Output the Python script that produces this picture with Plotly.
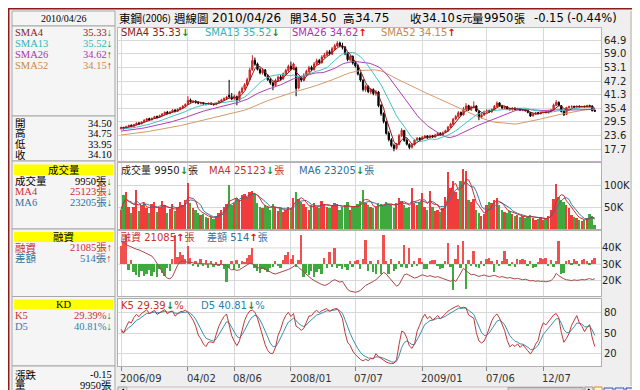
import plotly.graph_objects as go
import pandas as pd

W, H = 640, 390

# ---------------- axis / categories ----------------
holiday_weeks = ['2007-02-19', '2008-02-04', '2009-01-26']
week_dates = [d.strftime('%Y-%m-%d') for d in pd.date_range('2006-09-25', '2010-04-26', freq='7D')
              if d.strftime('%Y-%m-%d') not in holiday_weeks]
tick_dates = ['2006-09-25', '2007-04-02', '2007-08-06', '2008-01-07', '2008-07-07',
              '2009-01-05', '2009-07-06', '2009-12-07']
tick_labels = ['2006/09', '04/02', '08/06', '2008/01', '07/07', '2009/01', '07/06', '12/07']

price_ticks = [17.7, 23.6, 29.5, 35.4, 41.3, 47.2, 53.1, 59.0, 64.9]
vol_ticks = [50, 100]
margin_ticks = [20, 30, 40]
kd_ticks = [20, 50, 80]

# ---------------- weekly data ----------------
pre_close = [20.4, 20.6, 20.5, 20.8, 21.0, 20.9, 21.2, 21.4, 21.3, 21.6,
             21.8, 21.7, 22.0, 22.2, 22.1, 22.4, 22.6, 22.5, 22.8, 23.0,
             22.9, 23.2, 23.4, 23.3, 23.6, 23.8, 23.7, 24.0, 24.2, 24.1,
             24.4, 24.6, 24.5, 24.8, 25.0, 24.9, 25.2, 25.4, 25.3, 25.6,
             25.8, 25.7, 26.0, 26.2, 26.1, 26.4, 26.6, 26.5, 26.7, 26.9, 26.8]

open_p = [26.5, 27.1, 26.7, 27.3, 28.0, 27.6, 28.2, 29.0, 28.7, 29.5,
          30.1, 30.9, 30.4, 31.0, 31.8, 31.5, 32.2, 32.8, 33.7, 33.1,
          33.8, 34.6, 34.1, 34.8, 35.6, 36.3, 37.0, 38.9, 38.1, 38.5,
          38.0, 37.5, 37.8, 37.4, 37.1, 37.6, 37.3, 37.0, 37.6, 38.3,
          38.9, 39.5, 41.0, 40.3, 39.5, 40.4, 38.9, 42.4, 43.9, 45.5,
          47.9, 52.2, 56.2, 54.6, 52.2, 50.7, 52.0, 49.5, 47.9, 46.4,
          45.3, 47.4, 49.0, 48.1, 50.2, 51.7, 53.6, 52.3, 52.8, 44.2,
          48.6, 47.5, 49.7, 51.3, 53.1, 52.1, 54.5, 56.1, 55.1, 57.5,
          58.4, 59.9, 58.9, 61.1, 62.4, 63.7, 62.3, 61.9, 59.1, 56.4,
          57.9, 55.1, 53.9, 50.3, 47.5, 43.4, 44.9, 42.5, 43.5, 41.7,
          42.4, 36.6, 33.1, 29.5, 24.6, 21.7, 19.3, 18.0, 19.7, 23.4,
          25.7, 21.5, 19.7, 18.5, 19.6, 21.5, 22.4, 21.9, 22.7, 23.4,
          22.6, 23.5, 22.9, 23.7, 24.6, 23.8, 24.9, 25.5, 27.1, 28.4,
          30.7, 31.7, 33.5, 32.5, 35.0, 36.5, 34.7, 35.8, 36.4, 34.1,
          31.5, 32.5, 33.7, 34.4, 33.8, 34.7, 36.1, 37.7, 36.5, 35.4,
          36.0, 35.2, 34.7, 35.5, 34.8, 35.3, 34.4, 34.9, 34.4, 33.5,
          32.1, 32.8, 33.5, 33.0, 33.5, 34.0, 33.4, 33.9, 34.7, 36.7,
          38.0, 36.5, 34.1, 32.7, 35.6, 36.0, 36.2, 35.9, 36.3, 35.8,
          36.2, 35.9, 36.6, 36.4, 34.50]

high_p = [27.4, 27.3, 27.8, 28.3, 28.4, 28.6, 29.3, 29.4, 29.7, 30.6,
          31.2, 31.3, 31.4, 32.1, 32.2, 32.6, 33.3, 34.0, 34.2, 34.1,
          35.0, 35.0, 35.3, 36.0, 36.8, 37.5, 40.6, 39.6, 39.0, 38.8,
          38.4, 38.2, 38.0, 37.7, 37.9, 37.9, 37.6, 38.0, 38.8, 39.5,
          40.1, 40.8, 47.7, 42.0, 41.3, 40.9, 43.0, 44.8, 46.3, 48.6,
          53.0, 58.4, 57.4, 55.2, 53.0, 52.8, 52.4, 50.2, 48.5, 47.0,
          48.2, 49.6, 49.8, 50.9, 52.5, 54.3, 55.6, 55.2, 53.5, 49.3,
          49.5, 50.6, 52.1, 53.8, 53.9, 55.4, 56.9, 56.8, 58.4, 59.4,
          60.6, 60.7, 62.0, 63.3, 64.5, 64.3, 63.8, 62.4, 59.7, 58.6,
          58.3, 55.9, 54.4, 51.0, 48.0, 45.6, 45.3, 44.2, 44.0, 43.3,
          42.9, 37.2, 33.6, 30.0, 25.4, 22.4, 20.1, 20.3, 24.2, 26.7,
          26.0, 22.3, 20.2, 20.1, 22.1, 22.9, 22.8, 23.3, 23.8, 23.7,
          23.9, 23.8, 24.3, 25.0, 24.9, 25.3, 26.1, 27.7, 29.1, 31.2,
          32.5, 34.1, 34.0, 35.9, 37.6, 36.9, 36.5, 38.4, 36.7, 34.5,
          33.2, 34.4, 34.9, 34.8, 35.3, 36.8, 38.4, 38.0, 36.9, 36.4,
          36.3, 35.6, 35.8, 35.7, 35.6, 35.5, 35.2, 35.1, 34.6, 33.8,
          33.3, 33.8, 33.7, 33.9, 34.3, 34.2, 34.4, 35.0, 37.4, 38.9,
          38.3, 36.8, 34.4, 36.0, 36.5, 36.7, 36.5, 36.6, 36.6, 36.5,
          36.5, 36.9, 36.9, 36.6, 34.75]

low_p = [26.2, 26.1, 26.4, 27.0, 27.1, 27.3, 28.0, 28.2, 28.4, 29.2,
         29.9, 30.0, 30.1, 30.8, 31.0, 31.2, 31.9, 32.5, 32.8, 32.8,
         33.5, 33.6, 33.8, 34.5, 35.2, 35.9, 36.8, 37.8, 37.6, 37.4,
         37.1, 37.0, 36.9, 36.6, 36.8, 36.8, 36.5, 36.7, 37.3, 38.0,
         38.6, 39.2, 39.6, 38.9, 39.0, 36.7, 38.5, 41.9, 43.4, 45.0,
         47.5, 51.6, 53.8, 51.8, 50.1, 50.0, 49.0, 47.2, 45.6, 43.2,
         44.8, 46.9, 47.3, 47.8, 49.8, 51.2, 51.8, 51.9, 40.6, 43.6,
         46.8, 47.0, 49.2, 50.8, 51.5, 51.8, 54.0, 54.4, 54.8, 57.0,
         58.0, 58.3, 58.5, 60.6, 61.9, 61.8, 60.9, 58.4, 55.8, 55.9,
         54.3, 53.0, 49.6, 46.9, 42.7, 42.5, 41.9, 41.6, 41.0, 40.8,
         35.8, 32.1, 28.8, 23.9, 21.0, 18.5, 16.7, 17.4, 19.3, 22.9,
         20.8, 19.2, 17.6, 17.9, 19.2, 21.0, 21.2, 21.5, 22.3, 22.1,
         22.2, 22.5, 22.6, 23.4, 23.5, 23.5, 24.5, 25.2, 26.8, 28.1,
         30.2, 31.3, 31.9, 32.2, 34.6, 34.2, 34.3, 35.4, 33.8, 30.2,
         31.0, 32.1, 33.3, 33.4, 33.5, 34.4, 35.8, 36.0, 35.1, 35.0,
         34.7, 34.4, 34.4, 34.5, 34.5, 34.2, 34.1, 34.0, 33.2, 31.6,
         31.8, 32.5, 32.8, 32.8, 33.3, 33.2, 33.2, 33.7, 34.4, 36.4,
         36.2, 33.6, 32.0, 32.5, 35.3, 35.6, 35.5, 35.6, 35.5, 35.5,
         35.5, 35.7, 36.0, 34.1, 33.95]

close_p = [27.0, 26.6, 27.4, 27.9, 27.5, 28.3, 28.9, 28.6, 29.4, 30.2,
           30.8, 30.3, 31.0, 31.7, 31.4, 32.2, 32.9, 33.6, 33.1, 33.8,
           34.5, 34.0, 34.9, 35.6, 36.2, 37.0, 38.8, 38.2, 38.4, 37.9,
           37.6, 37.8, 37.3, 37.1, 37.5, 37.2, 37.0, 37.6, 38.4, 39.0,
           39.6, 40.2, 40.4, 39.4, 40.6, 38.8, 42.5, 44.0, 45.6, 47.8,
           52.0, 56.0, 54.5, 52.3, 50.8, 51.9, 49.6, 47.8, 46.5, 45.2,
           47.5, 48.9, 48.0, 50.3, 51.8, 53.5, 52.4, 54.6, 44.0, 48.5,
           47.6, 49.8, 51.4, 53.0, 52.2, 54.6, 56.0, 55.2, 57.6, 58.5,
           59.8, 59.0, 61.2, 62.5, 63.6, 62.4, 61.8, 59.0, 56.5, 57.8,
           55.0, 53.8, 50.2, 47.6, 43.5, 44.8, 42.6, 43.4, 41.8, 42.5,
           36.5, 33.0, 29.6, 24.5, 21.8, 19.2, 17.9, 19.6, 23.5, 25.8,
           21.4, 19.8, 18.4, 19.5, 21.6, 22.3, 21.8, 22.8, 23.3, 22.6,
           23.4, 22.9, 23.8, 24.5, 23.9, 24.8, 25.6, 27.2, 28.5, 30.6,
           31.8, 33.4, 32.6, 35.1, 36.4, 34.8, 35.9, 36.3, 34.2, 31.4,
           32.6, 33.8, 34.3, 33.9, 34.8, 36.2, 37.6, 36.4, 35.5, 35.9,
           35.1, 34.8, 35.4, 34.9, 35.2, 34.5, 34.8, 34.3, 33.6, 32.0,
           32.9, 33.4, 33.1, 33.6, 33.9, 33.5, 34.0, 34.6, 36.8, 37.9,
           36.6, 34.0, 32.6, 35.7, 36.0, 36.1, 35.94, 36.2, 35.9, 36.1,
           35.9, 36.5, 36.47, 34.25, 34.10]

volume_k = [45, 78, 85, 50, 38, 52, 90, 42, 55, 60,
            48, 36, 58, 62, 40, 52, 64, 55, 38, 46,
            58, 42, 50, 62, 55, 68, 107, 60, 48, 45,
            38, 32, 35, 28, 25, 27, 24, 30, 38, 45,
            52, 58, 102, 55, 60, 72, 68, 78, 82, 75,
            85, 88, 80, 60, 52, 48, 55, 50, 45, 58,
            50, 42, 48, 40, 45, 52, 48, 72, 85, 70,
            62, 58, 50, 45, 55, 60, 52, 48, 65, 58,
            52, 48, 55, 60, 58, 45, 50, 55, 62, 45,
            50, 52, 58, 65, 90, 60, 55, 50, 48, 52,
            60, 58, 55, 62, 58, 55, 48, 60, 72, 65,
            55, 48, 50, 95, 60, 55, 62, 83, 50, 45,
            88, 52, 42, 45, 40, 48, 75, 131, 95, 110,
            85, 70, 112, 140, 135, 68, 62, 70, 45, 38,
            30, 35, 55, 62, 60, 68, 72, 55, 45, 40,
            38, 42, 35, 30, 32, 28, 30, 25, 28, 32,
            26, 22, 24, 28, 20, 25, 30, 45, 70, 105,
            75, 68, 62, 55, 48, 32, 28, 25, 22, 19,
            20, 26, 35, 29.5, 9.95]

margin_bal_k = [44.0, 43.5, 42.0, 41.2, 40.5, 40.0, 39.2, 38.8, 38.0, 37.2,
                36.5, 35.8, 35.0, 33.0, 30.5, 27.5, 25.0, 23.0, 21.5, 21.0,
                22.5, 26.0, 29.5, 31.5, 32.0, 31.6, 31.0, 31.2, 30.8, 30.5,
                30.6, 30.2, 30.4, 30.0, 30.3, 30.1, 29.8, 30.0, 29.6, 29.9,
                29.5, 29.2, 27.5, 26.5, 26.8, 26.2, 26.6, 27.5, 28.5, 29.8,
                30.6, 30.2, 29.0, 28.0, 27.5, 27.8, 27.0, 26.0, 25.0, 24.4,
                24.0, 24.5, 25.2, 25.8, 26.2, 26.8, 27.6, 28.5, 29.6, 28.0,
                26.5, 25.0, 23.5, 22.0, 21.0, 20.0, 19.0, 18.2, 17.5, 17.0,
                17.5, 18.5, 19.8, 20.5, 19.8, 19.0, 19.5, 17.0, 14.5, 13.5,
                13.0, 12.8, 13.2, 14.0, 15.5, 17.0, 17.8, 18.5, 19.5, 20.5,
                22.0, 23.5, 25.0, 24.0, 22.0, 20.0, 18.0, 16.5, 17.5, 20.5,
                23.5, 24.0, 23.0, 22.0, 21.5, 22.0, 23.0, 23.5, 23.0, 22.5,
                23.0, 22.6, 22.0, 22.4, 21.8, 21.5, 21.0, 20.0, 19.5, 20.5,
                19.4, 22.0, 25.0, 27.5, 26.0, 24.5, 23.5, 23.8, 23.0, 22.5,
                23.0, 23.4, 22.8, 22.5, 22.8, 23.2, 22.6, 22.0, 22.4, 22.0,
                21.5, 21.8, 21.4, 21.0, 21.3, 20.8, 20.5, 20.8, 20.2, 19.8,
                20.0, 19.5, 19.8, 19.4, 19.6, 19.2, 19.5, 20.0, 21.5, 24.4,
                23.0, 21.8, 21.0, 20.5, 20.2, 20.0, 20.4, 20.1, 20.3, 20.6,
                20.4, 20.8, 21.2, 20.571, 21.085]

margin_chg = [1800, 2300, 2900, -700, 400, -900, -1200, -1400, -800, -1300,
              -1100, -700, -1300, -900, -1400, -600, -1000, -1300, -500, -800,
              500, 2900, 700, 1200, 900, 500, 1800, 600, -300, 300,
              -400, 500, -300, 400, -500, 300, -400, 200, -300, 400,
              -600, -1900, -500, 300, -700, 400, -500, 300, 200, 600,
              900, 1600, -500, -800, -1000, -600, -700, -900, -500, -400,
              300, -300, -500, 400, 900, 1200, 500, 900, -400, 400,
              2900, -1400, -1000, -1200, -800, -1400, -900, -600, -1100, 600,
              -500, 1200, -400, 1600, -500, -300, -600, -400, -700, 300,
              -400, 300, 400, -600, 500, 2400, -800, 300, -900, -1100,
              400, -1100, 2900, 300, -1100, 500, -800, -600, 300, -400,
              1900, -500, 1600, -400, 300, -300, 600, 200, -600, -600,
              300, 400, 400, -300, -600, -500, 300, 2100, -400, -2700,
              500, 1900, -500, 2300, -2600, 400, -300, 1300, -400, -500,
              300, -300, 500, 600, 300, -900, 400, -300, 300, 1300,
              500, -300, 200, -400, 500, 400, 500, 400, -300, 300,
              -500, -400, 200, 600, 500, 600, -300, 400, -400, 300,
              2300, -1100, -1000, 300, 400, -200, 500, 300, -300, 400,
              500, 300, -200, 400, 514]

# ---------------- derived indicators ----------------
n = len(close_p)
xs = list(range(n))
tick_idx = [week_dates.index(t) for t in tick_dates]

full_close = pd.Series(pre_close + close_p)
def sma(w):
    return full_close.rolling(w, min_periods=1).mean().iloc[len(pre_close):].tolist()
sma4, sma13, sma26, sma52 = sma(4), sma(13), sma(26), sma(52)

vol_s = pd.Series(volume_k)
vol_ma4 = vol_s.rolling(4, min_periods=1).mean().tolist()
vol_ma6 = vol_s.rolling(6, min_periods=1).mean().tolist()

K, D = [], []
k = d = 50.0
for i in range(n):
    lo = min(low_p[max(0, i - 4):i + 1])
    hi = max(high_p[max(0, i - 4):i + 1])
    rsv = (close_p[i] - lo) / (hi - lo) * 100 if hi > lo else 50
    k = k * 2 / 3 + rsv / 3
    d = d * 2 / 3 + k / 3
    K.append(k)
    D.append(d)

UPC, DNC = '#f03c3c', '#3fa83f'
vol_colors = [UPC if c > o else (DNC if c < o else '#000000') for o, c in zip(open_p, close_p)]
mchg_colors = ['#f05050' if v > 0 else '#3fa83f' for v in margin_chg]

# ---------------- figure ----------------
fig = go.Figure()
fig.add_trace(go.Candlestick(x=xs, open=open_p, high=high_p, low=low_p, close=close_p,
                             xaxis='x', yaxis='y', hoverinfo='skip',
                             increasing=dict(line=dict(color='#c81e1e', width=1), fillcolor='#f04848'),
                             decreasing=dict(line=dict(color='#000000', width=1), fillcolor='#000000')))
for vals, col in [(sma52, '#d49a6a'), (sma26, '#b03cb8'), (sma13, '#40c4c8'), (sma4, '#8b1a1a')]:
    fig.add_trace(go.Scatter(x=xs, y=vals, mode='lines', line=dict(color=col, width=1),
                             xaxis='x', yaxis='y', hoverinfo='skip'))

fig.add_trace(go.Bar(x=xs, y=volume_k, marker=dict(color=vol_colors, line=dict(width=0)),
                     width=0.72, xaxis='x2', yaxis='y2', hoverinfo='skip'))
fig.add_trace(go.Scatter(x=xs, y=vol_ma6, mode='lines', line=dict(color='#3878a8', width=1),
                         xaxis='x2', yaxis='y2', hoverinfo='skip'))
fig.add_trace(go.Scatter(x=xs, y=vol_ma4, mode='lines', line=dict(color='#c83030', width=1),
                         xaxis='x2', yaxis='y2', hoverinfo='skip'))

fig.add_trace(go.Bar(x=xs, y=margin_chg, marker=dict(color=mchg_colors, line=dict(width=0)),
                     width=0.72, xaxis='x3', yaxis='y3', hoverinfo='skip'))
fig.add_trace(go.Scatter(x=xs, y=margin_bal_k, mode='lines', line=dict(color='#a84848', width=1),
                         xaxis='x3', yaxis='y5', hoverinfo='skip'))

fig.add_trace(go.Scatter(x=xs, y=D, mode='lines', line=dict(color='#3a8fb0', width=1),
                         xaxis='x4', yaxis='y4', hoverinfo='skip'))
fig.add_trace(go.Scatter(x=xs, y=K, mode='lines', line=dict(color='#c03838', width=1),
                         xaxis='x4', yaxis='y4', hoverinfo='skip'))

def px(x): return x / W
def py(y): return 1 - y / H

xdom = [px(110), px(593)]
xr = [(110 - 113) / 2.575, (593 - 113) / 2.575]
GRID = '#d8d8d8'
def xax(anchor, line, ticks=''):
    return dict(domain=xdom, range=xr, anchor=anchor, tickvals=tick_idx, showticklabels=False,
                showgrid=True, gridcolor=GRID, gridwidth=1, zeroline=False,
                showline=True, mirror=True, linecolor=line, linewidth=1,
                ticks=ticks, ticklen=4, tickcolor='#888888', fixedrange=True)

def yax(dom, rng, tv, tt, line, grid=True):
    return dict(domain=[py(dom[1]), py(dom[0])], range=rng, side='right', tickvals=tv, ticktext=tt,
                showgrid=grid, gridcolor=GRID, zeroline=False, showline=True, mirror=True,
                linecolor=line, linewidth=1, ticks='', tickfont=dict(size=10, color='#222222',
                family='DejaVu Sans'), fixedrange=True)

fig.update_layout(
    width=W, height=H, margin=dict(l=0, r=0, t=0, b=0),
    paper_bgcolor='#efefef', plot_bgcolor='#ffffff', showlegend=False, bargap=0,
    font=dict(family='DejaVu Sans, Noto Sans CJK TC', size=10),
    xaxis=dict(xax('y', '#cfa6dc'), rangeslider=dict(visible=False)),
    xaxis2=xax('y2', '#b0b0b0'),
    xaxis3=xax('y3', '#b0b0b0'),
    xaxis4=xax('y4', '#b0b0b0', ticks='outside'),
    yaxis=yax([20, 153], [12.5, 70.2], price_ticks, ['%.1f' % v for v in price_ticks], '#cfa6dc'),
    yaxis2=yax([155, 221], [0, 152.8], vol_ticks, ['%dK' % v for v in vol_ticks], '#b0b0b0'),
    yaxis3=dict(yax([223, 288], [-3300, 3300], [], [], '#b0b0b0', grid=False), showticklabels=False),
    yaxis5=dict(overlaying='y3', anchor='x3', side='right', range=[10.5, 50.4], tickvals=margin_ticks,
                ticktext=['%dK' % v for v in margin_ticks], showgrid=False, zeroline=False, ticks='',
                showline=False, tickfont=dict(size=10, color='#222222', family='DejaVu Sans'), fixedrange=True),
    yaxis4=yax([291, 358], [2.2, 99.3], kd_ticks, [str(v) for v in kd_ticks], '#b0b0b0'),
)

shapes = []
def rect(x0, y0, x1, y1, fill, line=None, lw=1, layer='below'):
    shapes.append(dict(type='rect', xref='paper', yref='paper', x0=px(x0), x1=px(x1), y0=py(y1), y1=py(y0),
                       fillcolor=fill, line=dict(color=line or fill, width=lw if line else 0), layer=layer))
def path(pts, color, width=1):
    p = 'M ' + ' L '.join('%f,%f' % (px(a), py(b)) for a, b in pts)
    shapes.append(dict(type='path', xref='paper', yref='paper', path=p,
                       line=dict(color=color, width=width), layer='above'))

# margin panel horizontal grid lines (drawn under traces)
for v in margin_ticks:
    yy = 223 + (50.4 - v) / (50.4 - 10.5) * (288 - 223)
    shapes.append(dict(type='line', xref='paper', yref='paper', x0=xdom[0], x1=xdom[1], y0=py(yy), y1=py(yy),
                       line=dict(color=GRID, width=1), layer='below'))

# left info panel
sections = [(3, 18), (18, 108), (108, 153), (153, 221), (221, 288.5), (288.5, 358), (358, 387)]
for a, b in sections:
    rect(4, a, 107, b, '#f5f5f5', '#a8a8a8')
for a, b in [(156.5, 167), (224, 234), (291.5, 301.5)]:
    rect(6, a, 105, b, '#ffff00')
# right strip and scrollbar
rect(622, 3, 637, 378, '#d4d0c8')
rect(110, 379, 119, 388, '#e6e6e6', '#9a9a9a')
rect(119, 379, 577, 388, '#f0f0f0', '#c0c0c0')
rect(500, 379.5, 575, 387.5, '#d0d0d0', '#a0a0a0')
rect(577, 379, 585, 388, '#e6e6e6', '#9a9a9a')
rect(586, 379, 594, 388, '#fff3d0', '#e08a20')
rect(596, 380, 605, 387, '#e8eef8', '#3050c0')
rect(607, 380, 616, 387, '#e8eef8', '#3050c0')
rect(618, 380, 626, 387, '#eeeeee', '#2040a0')
rect(628, 380, 636, 387, '#c89030', '#606000')
path([(116, 381), (113, 383.5), (116, 386)], '#000000', 1.5)
path([(580, 381), (583, 383.5), (580, 386)], '#000000', 1.5)
# outer frame
shapes.append(dict(type='rect', xref='paper', yref='paper', x0=0, x1=1, y0=0, y1=1,
                   line=dict(color='#8c1c1c', width=3), fillcolor='rgba(0,0,0,0)', layer='above'))
fig.update_layout(shapes=shapes)

anns = []
SANS = 'DejaVu Sans, Noto Sans CJK TC'
CJK = 'Noto Sans CJK TC'
SERIF = 'Liberation Serif, Noto Sans CJK TC'
def txt(x, y, s, color='#000000', size=10, anchor='left', family=SANS):
    anns.append(dict(x=px(x), y=py(y), xref='paper', yref='paper', text=s, showarrow=False,
                     xanchor=anchor, yanchor='middle', borderpad=0,
                     font=dict(color=color, size=size, family=family)))

DN = '<span style="color:#1a8c1a"><b>↓</b></span>'
UP = '<span style="color:#e01010"><b>↑</b></span>'

# header line (placed token by token)
HY = 9.5
txt(110, HY, '東鋼', size=11.5, family=CJK)
txt(133, HY, '(2006)', size=10, family=CJK)
txt(165, HY, '週線圖', size=11.5, family=CJK)
txt(203, HY, '2010/04/26', size=12)
txt(281, HY, '開', size=11.5, family=CJK)
txt(293, HY, '34.50', size=12)
txt(334, HY, '高', size=11.5, family=CJK)
txt(346, HY, '34.75', size=12)
txt(401, HY, '收', size=11.5, family=CJK)
txt(413, HY, '34.10', size=11.5)
txt(447, HY, 's', size=11.5)
txt(453, HY, '元', size=10.5, family=CJK)
txt(463, HY, '量', size=11.5, family=CJK)
txt(475, HY, '9950', size=11.5)
txt(505, HY, '張', size=11, family=CJK)
txt(525, HY, '-0.15', size=11.5)
txt(558, HY, '(-0.44%)', size=11.5)

# panel legends
txt(112, 25, 'SMA4 35.33' + DN, '#8b1a1a')
txt(196, 25, 'SMA13 35.52' + DN, '#30b4b8')
txt(283, 25, 'SMA26 34.62' + UP, '#b030b0')
txt(372, 25, 'SMA52 34.15' + UP, '#c88850')
txt(112, 162, '成交量 9950' + DN + '張', '#222222')
txt(200, 162, 'MA4 25123' + DN + '張', '#c83030')
txt(290, 162, 'MA6 23205' + DN + '張', '#3070a0')
txt(112, 229, '融資 21085' + UP + '張', '#c83030')
txt(198, 229, '差額 514' + UP + '張', '#3070a0')
txt(112, 297, 'K5 29.39' + DN + '%', '#c83030')
txt(192, 297, 'D5 40.81' + DN + '%', '#3080a8')

# x tick labels (left aligned at ticks)
for ti, lab in zip(tick_idx, tick_labels):
    anns.append(dict(x=ti, y=py(370), xref='x4', yref='paper', text=lab, showarrow=False,
                     xanchor='left', yanchor='middle', xshift=-3,
                     font=dict(size=10, color='#333333', family='DejaVu Sans')))

# left panel texts
txt(56, 10, '2010/04/26', size=10, anchor='center', family=SERIF)
rows = [
    (24.5, 'SMA4', '35.33' + DN, '#8b1a1a'),
    (35.5, 'SMA13', '35.52' + DN, '#30b4b8'),
    (46.5, 'SMA26', '34.62' + UP, '#b030b0'),
    (57.5, 'SMA52', '34.15' + UP, '#c88850'),
    (115, '開', '34.50', '#000000'),
    (125.5, '高', '34.75', '#000000'),
    (136, '低', '33.95', '#000000'),
    (146.5, '收', '34.10', '#000000'),
    (173, '成交量', '9950張' + DN, '#000000'),
    (183.5, 'MA4', '25123張' + DN, '#c83030'),
    (194, 'MA6', '23205張' + DN, '#3070a0'),
    (239.5, '融資', '21085張' + UP, '#c83030'),
    (250, '差額', '514張' + UP, '#3070a0'),
    (307.5, 'K5', '29.39%' + DN, '#c83030'),
    (318.5, 'D5', '40.81%' + DN, '#3080a8'),
    (366.5, '漲跌', '-0.15', '#000000'),
    (377, '量', '9950張', '#000000'),
]
for y, lab, val, col in rows:
    txt(6, y, lab, col, size=10.5, family=SERIF)
    txt(105, y, val, col, size=10.5, anchor='right', family=SERIF)
txt(56, 162, '成交量', '#000000', size=10.5, anchor='center', family=SERIF)
txt(56, 229, '融資', '#000000', size=10.5, anchor='center', family=SERIF)
txt(56, 296.5, 'KD', '#000000', size=10.5, anchor='center', family=SERIF)

fig.update_layout(annotations=anns)
fig.write_html('out.html')
